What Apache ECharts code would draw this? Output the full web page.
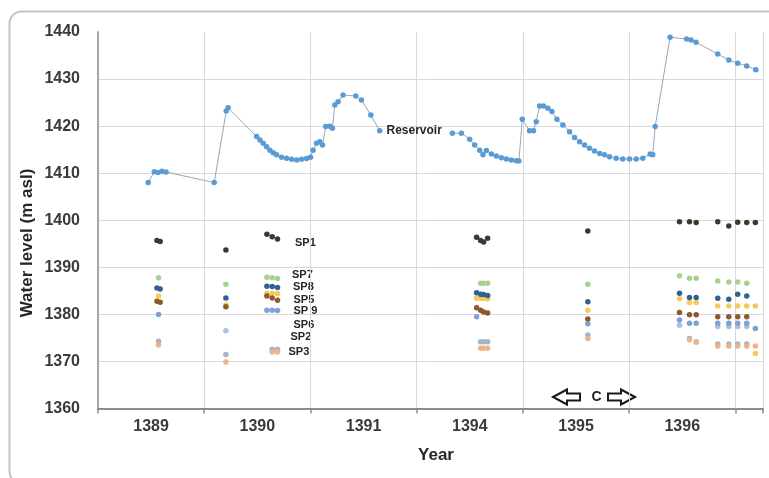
<!DOCTYPE html>
<html>
<head>
<meta charset="utf-8">
<script src="https://cdn.jsdelivr.net/npm/echarts@6/dist/echarts.min.js"></script>
<style>
html,body{margin:0;padding:0;background:#fff;}
#chart{width:769px;height:478px;}
</style>
</head>
<body>
<div id="chart"></div>
<script>
// ---- Data (x = position along the time axis, 1 unit per year block) ----
const years = ['1389', '1390', '1391', '1394', '1395', '1396'];

const resX = [0.473, 0.530, 0.564, 0.602, 0.640, 1.094, 1.207, 1.225,
  1.493, 1.524, 1.555, 1.587, 1.618, 1.649, 1.681, 1.728, 1.775, 1.822, 1.869, 1.916, 1.963, 2.000,
  2.025, 2.057, 2.088, 2.113, 2.144, 2.182, 2.207, 2.229, 2.260, 2.307, 2.427, 2.480, 2.568, 2.652,
  3.000,
  3.336, 3.421, 3.499, 3.546, 3.593, 3.624, 3.656, 3.703, 3.750, 3.797, 3.844, 3.891, 3.938, 3.962,
  3.994, 4.062, 4.100, 4.125, 4.157, 4.194, 4.235, 4.273, 4.320, 4.376, 4.439, 4.486, 4.533, 4.580,
  4.627, 4.674, 4.722, 4.768, 4.815, 4.878, 4.940, 5.003, 5.066, 5.129, 5.198, 5.222, 5.245,
  5.385, 5.541, 5.583, 5.630, 5.834, 5.938, 6.022, 6.106, 6.192];
const resY = [1408.0, 1410.3, 1410.15, 1410.4, 1410.25, 1408.0, 1423.2, 1423.9,
  1417.8, 1417.05, 1416.35, 1415.6, 1414.9, 1414.35, 1413.9, 1413.4, 1413.2, 1412.95, 1412.8, 1412.95, 1413.1, 1413.4,
  1414.9, 1416.35, 1416.7, 1416.0, 1419.9, 1420.0, 1419.55, 1424.5, 1425.2, 1426.6, 1426.4, 1425.55, 1422.35, 1419.0,
  null,
  1418.5, 1418.5, 1417.2, 1416.0, 1414.9, 1413.9, 1414.8, 1414.1, 1413.65, 1413.3, 1413.0, 1412.8, 1412.65, 1412.6,
  1421.45, 1419.0, 1419.0, 1420.95, 1424.3, 1424.3, 1423.8, 1423.1, 1421.45, 1420.25, 1418.8, 1417.6, 1416.7, 1416.0,
  1415.3, 1414.7, 1414.2, 1413.9, 1413.5, 1413.15, 1413.0, 1413.0, 1413.0, 1413.15, 1414.1, 1413.9, 1419.9,
  1438.9, 1438.5, 1438.3, 1437.8, 1435.3, 1434.05, 1433.35, 1432.8, 1432.0];

const sp1 = [[0.555, 1395.7], [0.585, 1395.5], [1.204, 1393.7], [1.59, 1397.0], [1.64, 1396.5], [1.69, 1396.0],
  [3.564, 1396.4], [3.602, 1395.7], [3.630, 1395.4], [3.668, 1396.2], [4.611, 1397.7],
  [5.474, 1399.7], [5.568, 1399.7], [5.631, 1399.5], [5.834, 1399.7], [5.938, 1398.8], [6.022, 1399.6], [6.107, 1399.5], [6.188, 1399.5]];
const sp7 = [[0.57, 1387.8], [1.204, 1386.4], [1.59, 1387.9], [1.64, 1387.8], [1.69, 1387.6],
  [3.602, 1386.6], [3.630, 1386.6], [3.668, 1386.6], [4.611, 1386.4],
  [5.474, 1388.2], [5.568, 1387.7], [5.631, 1387.7], [5.834, 1387.1], [5.938, 1386.9], [6.022, 1386.9], [6.107, 1386.6]];
const sp8 = [[0.555, 1385.6], [0.585, 1385.4], [1.204, 1383.5], [1.59, 1386.0], [1.64, 1385.9], [1.69, 1385.7],
  [3.564, 1384.6], [3.602, 1384.3], [3.630, 1384.2], [3.668, 1384.0], [4.611, 1382.7],
  [5.474, 1384.5], [5.568, 1383.6], [5.631, 1383.6], [5.834, 1383.4], [5.938, 1383.2], [6.022, 1384.3], [6.107, 1383.9]];
const sp4 = [[0.57, 1383.9], [1.204, 1382.0], [1.59, 1384.5], [1.64, 1384.5], [1.69, 1384.4],
  [3.564, 1383.4], [3.602, 1383.4], [3.630, 1383.4], [3.668, 1383.3], [4.611, 1380.9],
  [5.474, 1383.3], [5.568, 1382.5], [5.631, 1382.5], [5.834, 1381.8], [5.938, 1381.8], [6.022, 1381.8], [6.107, 1381.8], [6.188, 1381.8], [6.188, 1371.7]];
const sp5 = [[0.555, 1382.8], [0.585, 1382.6], [1.204, 1381.6], [1.59, 1383.9], [1.64, 1383.5], [1.69, 1383.0],
  [3.564, 1381.4], [3.602, 1380.9], [3.630, 1380.5], [3.668, 1380.3], [4.611, 1379.0],
  [5.474, 1380.4], [5.568, 1379.9], [5.631, 1379.9], [5.834, 1379.5], [5.938, 1379.5], [6.022, 1379.5], [6.107, 1379.5]];
const sp9 = [[0.57, 1380.0], [1.59, 1380.9], [1.64, 1380.9], [1.69, 1380.8], [3.564, 1379.5], [4.611, 1378.0],
  [5.474, 1378.8], [5.568, 1378.1], [5.631, 1378.1], [5.834, 1378.1], [5.938, 1378.1], [6.022, 1378.1], [6.107, 1378.1], [6.188, 1377.0]];
const sp6 = [[1.204, 1376.5], [5.474, 1377.7], [5.834, 1377.4], [5.938, 1377.4], [6.022, 1377.4], [6.107, 1377.4]];
const sp2 = [[0.57, 1374.3], [1.204, 1371.5], [1.64, 1372.6], [1.69, 1372.6],
  [3.602, 1374.2], [3.630, 1374.2], [3.668, 1374.2], [4.611, 1375.6],
  [5.568, 1374.9], [5.631, 1374.2], [5.834, 1373.7], [5.938, 1373.7], [6.022, 1373.7], [6.107, 1373.7]];
const sp3 = [[0.57, 1373.5], [1.204, 1369.9], [1.64, 1372.0], [1.69, 1372.0],
  [3.602, 1372.8], [3.630, 1372.8], [3.668, 1372.8], [4.611, 1374.9],
  [5.568, 1374.6], [5.631, 1374.1], [5.834, 1373.3], [5.938, 1373.3], [6.022, 1373.3], [6.107, 1373.3], [6.188, 1373.3]];

// ---- Chart ----
const FONT = "'Liberation Sans', Arial, sans-serif";
const chart = echarts.init(document.getElementById('chart'), null, {renderer: 'canvas'});

const gapIdx = resY.indexOf(null);
const resData = resX.map((x, i) => {
  if (resY[i] === null) return [x, '-'];
  const item = {value: [x, resY[i]]};
  if (i === gapIdx - 1) {
    item.label = {show: true, position: 'right', distance: 4, formatter: 'Reservoir',
      fontFamily: FONT, fontWeight: 'bold', fontSize: 12, color: '#262626'};
  }
  return item;
});

function sp(name, data, color) {
  return {name, type: 'scatter', data, symbol: 'circle', symbolSize: 5.5,
    itemStyle: {color: color, opacity: 1}, z: 3, silent: true};
}

const yLineColors = ['#d9d9d9', '#d9d9d9', '#d9d9d9', '#d9d9d9', '#d9d9d9', '#d9d9d9', '#d9d9d9', '#d9d9d9', 'rgba(0,0,0,0)'];

const option = {
  animation: false,
  backgroundColor: '#ffffff',
  grid: {left: 98, right: 6, top: 32, bottom: 69.5, containLabel: false},
  xAxis: [
    {type: 'value', min: 0, max: 6.26, interval: 1, position: 'bottom',
      axisLine: {show: true, lineStyle: {color: '#8c8c8c', width: 2}},
      axisTick: {show: true, length: 5, lineStyle: {color: '#8c8c8c', width: 1.5}},
      axisLabel: {show: false},
      splitLine: {show: true, lineStyle: {color: '#d9d9d9', width: 1}}},
    {type: 'value', min: 0, max: 6.26, interval: 0.5, position: 'bottom',
      axisLine: {show: false}, axisTick: {show: false}, splitLine: {show: false},
      axisLabel: {show: true, margin: 10, fontFamily: FONT, fontWeight: 'bold', fontSize: 16, color: '#3a3a3a',
        showMinLabel: false, showMaxLabel: false,
        formatter: function (v) {
          const f = v - Math.floor(v);
          if (Math.abs(f - 0.5) < 0.01) { return years[Math.floor(v)] || ''; }
          return '';
        }}}
  ],
  yAxis: {type: 'value', min: 1360, max: 1440, interval: 10,
    axisLine: {show: true, lineStyle: {color: '#a6a6a6', width: 2}},
    axisTick: {show: false},
    axisLabel: {margin: 18, fontFamily: FONT, fontWeight: 'bold', fontSize: 16, color: '#3a3a3a',
      formatter: function (v) { return String(Math.round(v)); }},
    splitLine: {show: true, lineStyle: {color: yLineColors, width: 1}}},
  series: [
    {name: 'Reservoir', type: 'line', data: resData, connectNulls: false,
      symbol: 'circle', symbolSize: 5.5, showSymbol: true,
      itemStyle: {color: '#5b9bd5'}, lineStyle: {color: '#9aa6b2', width: 1}, z: 4, silent: true},
    sp('SP2', sp2, '#a7b2c6'),
    sp('SP3', sp3, '#eeb38b'),
    sp('SP6', sp6, '#a8c1e3'),
    sp('SP9', sp9, '#7ea1d6'),
    sp('SP4', sp4, '#f6c95a'),
    sp('SP5', sp5, '#8c5a2b'),
    sp('SP8', sp8, '#2f6294'),
    sp('SP7', sp7, '#a9d18e'),
    sp('SP1', sp1, '#343e2c')
  ],
  graphic: [
    {type: 'rect', shape: {x: 9.5, y: 11.5, width: 800, height: 472, r: 12},
      style: {fill: 'none', stroke: '#c4c4c4', lineWidth: 2}, silent: true},
    {type: 'text', x: 27, y: 243, rotation: Math.PI / 2,
      style: {text: 'Water level (m asl)', font: "bold 17px " + FONT, fill: '#262626', align: 'center', verticalAlign: 'middle'}},
    {type: 'text', x: 436, y: 455,
      style: {text: 'Year', font: "bold 17px " + FONT, fill: '#262626', align: 'center', verticalAlign: 'middle'}},
    {type: 'text', x: 295, y: 243, style: {text: 'SP1', font: "bold 11px " + FONT, fill: '#262626', verticalAlign: 'middle'}},
    {type: 'text', x: 292, y: 274.5, style: {text: 'SP7', font: "bold 11px " + FONT, fill: '#262626', verticalAlign: 'middle'}},
    {type: 'text', x: 293, y: 286.5, style: {text: 'SP8', font: "bold 11px " + FONT, fill: '#262626', verticalAlign: 'middle'}},
    {type: 'text', x: 293.5, y: 299.5, style: {text: 'SP5', font: "bold 11px " + FONT, fill: '#262626', verticalAlign: 'middle'}},
    {type: 'text', x: 293.5, y: 311, style: {text: 'SP 9', font: "bold 11px " + FONT, fill: '#262626', verticalAlign: 'middle'}},
    {type: 'text', x: 293.5, y: 324.5, style: {text: 'SP6', font: "bold 11px " + FONT, fill: '#262626', verticalAlign: 'middle'}},
    {type: 'text', x: 290.5, y: 337, style: {text: 'SP2', font: "bold 11px " + FONT, fill: '#262626', verticalAlign: 'middle'}},
    {type: 'text', x: 288.5, y: 352, style: {text: 'SP3', font: "bold 11px " + FONT, fill: '#262626', verticalAlign: 'middle'}},
    {type: 'polygon', shape: {points: [[553, 397], [567, 389.5], [567, 393.5], [580, 393.5], [580, 400.5], [567, 400.5], [567, 404.5]]},
      style: {fill: '#ffffff', stroke: '#1a1a1a', lineWidth: 2}},
    {type: 'polygon', shape: {points: [[635, 397], [621, 389.5], [621, 393.5], [608, 393.5], [608, 400.5], [621, 400.5], [621, 404.5]]},
      style: {fill: '#ffffff', stroke: '#1a1a1a', lineWidth: 2}},
    {type: 'text', x: 596.5, y: 397, style: {text: 'C', font: "bold 14px " + FONT, fill: '#262626', align: 'center', verticalAlign: 'middle'}}
  ]
};
chart.setOption(option);
</script>
</body>
</html>
